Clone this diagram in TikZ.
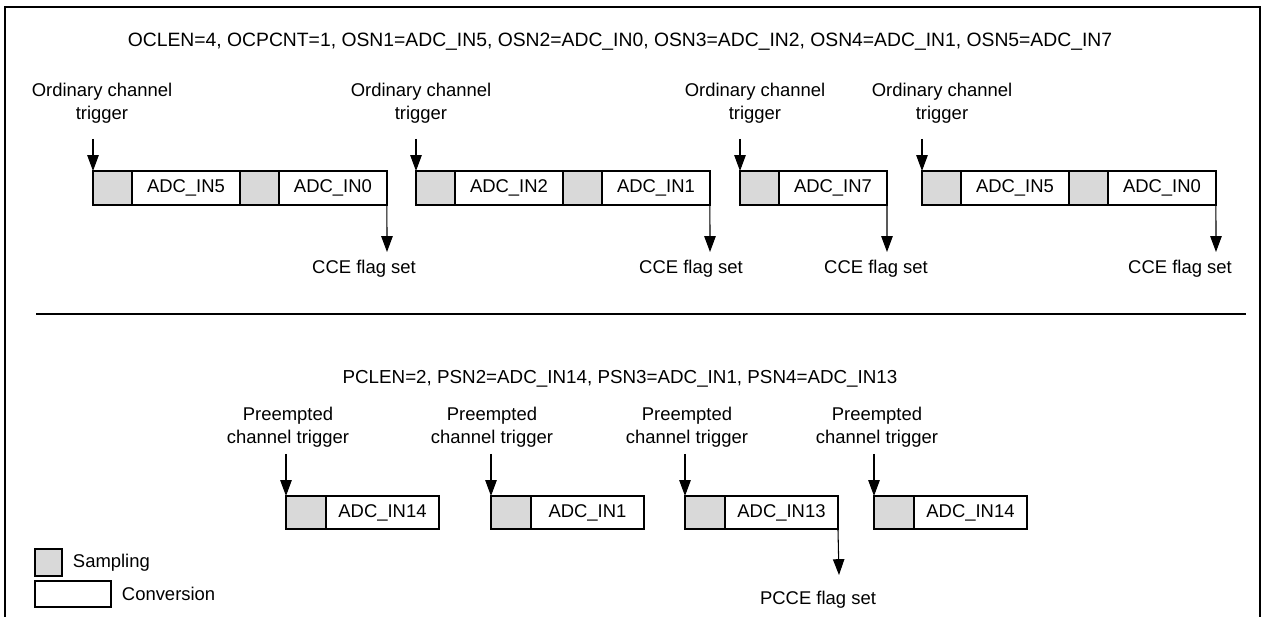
\documentclass[tikz,border=0pt]{standalone}
\usepackage{fontspec}
\setmainfont{Liberation Sans}
\usetikzlibrary{positioning,arrows.meta}
\definecolor{sampgray}{RGB}{217,217,217}

\begin{document}
\begin{tikzpicture}[x=0.02cm,y=-0.02cm,
    font=\fontsize{10.5}{13}\selectfont,
    samp/.style={draw,fill=sampgray,line width=0.7pt,minimum width=0.78cm,
      minimum height=0.68cm,inner sep=0pt,outer sep=0pt},
    conv/.style={draw,fill=white,line width=0.7pt,minimum width=2.16cm,
      minimum height=0.68cm,inner sep=0pt,outer sep=0pt},
    psamp/.style={samp,minimum width=0.8cm,minimum height=0.66cm},
    pconv/.style={conv,minimum width=2.26cm,minimum height=0.66cm},
    arr/.style={-{Triangle[length=9pt,width=6.5pt]},line width=0.6pt}]
  \useasboundingbox (0,0) rectangle (1265,617);
  % frame, open at the bottom
  \draw[line width=1.1pt] (5,640) -- (5,7) -- (1260,7) -- (1260,640);

  % ordinary channels
  \node[font=\fontsize{11}{13}\selectfont] (otitle) at (620,42) {OCLEN=4, OCPCNT=1, OSN1=ADC\_IN5, OSN2=ADC\_IN0, OSN3=ADC\_IN2, OSN4=ADC\_IN1, OSN5=ADC\_IN7};

  \node[samp,anchor=west] (o1a) at (93,188) {};
  \node[conv,right=0pt of o1a] (o1b) {ADC\_IN5};
  \node[samp,right=0pt of o1b] (o1c) {};
  \node[conv,right=0pt of o1c] (o1d) {ADC\_IN0};

  \node[samp,anchor=west] (o2a) at (416,188) {};
  \node[conv,right=0pt of o2a] (o2b) {ADC\_IN2};
  \node[samp,right=0pt of o2b] (o2c) {};
  \node[conv,right=0pt of o2c] (o2d) {ADC\_IN1};

  \node[samp,anchor=west] (o3a) at (740,188) {};
  \node[conv,right=0pt of o3a] (o3b) {ADC\_IN7};

  \node[samp,anchor=west] (o4a) at (922,188) {};
  \node[conv,right=0pt of o4a] (o4b) {ADC\_IN5};
  \node[samp,right=0pt of o4b] (o4c) {};
  \node[conv,right=0pt of o4c] (o4d) {ADC\_IN0};

  \node[align=center] (ot1) at (102,103) {Ordinary channel\\trigger};
  \node[align=center] (ot2) at (421,103) {Ordinary channel\\trigger};
  \node[align=center] (ot3) at (755,103) {Ordinary channel\\trigger};
  \node[align=center] (ot4) at (942,103) {Ordinary channel\\trigger};
  \coordinate (t1) at (93,139);
  \coordinate (t2) at (416,139);
  \coordinate (t3) at (740,139);
  \coordinate (t4) at (922,139);
  \draw[arr] (t1) -- (o1a.north west);
  \draw[arr] (t2) -- (o2a.north west);
  \draw[arr] (t3) -- (o3a.north west);
  \draw[arr] (t4) -- (o4a.north west);

  \coordinate (c1) at (387,252);
  \coordinate (c2) at (710,252);
  \coordinate (c3) at (887,252);
  \coordinate (c4) at (1216,252);
  \draw[arr] (o1d.south east) -- (c1);
  \draw[arr] (o2d.south east) -- (c2);
  \draw[arr] (o3b.south east) -- (c3);
  \draw[arr] (o4d.south east) -- (c4);
  \node (cf1) at (364,269) {CCE flag set};
  \node (cf2) at (691,269) {CCE flag set};
  \node (cf3) at (876,269) {CCE flag set};
  \node (cf4) at (1180,269) {CCE flag set};

  \draw[line width=1pt] (36,314) -- (1246,314);

  % preempted channels
  \node[font=\fontsize{10.7}{13}\selectfont] (ptitle) at (620,379) {PCLEN=2, PSN2=ADC\_IN14, PSN3=ADC\_IN1, PSN4=ADC\_IN13};

  \node[psamp,anchor=west] (p1a) at (286,512.5) {};
  \node[pconv,right=0pt of p1a] (p1b) {ADC\_IN14};
  \node[psamp,anchor=west] (p2a) at (491,512.5) {};
  \node[pconv,right=0pt of p2a] (p2b) {ADC\_IN1};
  \node[psamp,anchor=west] (p3a) at (685,512.5) {};
  \node[pconv,right=0pt of p3a] (p3b) {ADC\_IN13};
  \node[psamp,anchor=west] (p4a) at (874,512.5) {};
  \node[pconv,right=0pt of p4a] (p4b) {ADC\_IN14};

  \node[align=center] (pt1) at (288,427) {Preempted\\channel trigger};
  \node[align=center] (pt2) at (492,427) {Preempted\\channel trigger};
  \node[align=center] (pt3) at (687,427) {Preempted\\channel trigger};
  \node[align=center] (pt4) at (877,427) {Preempted\\channel trigger};
  \coordinate (s1) at (286,454);
  \coordinate (s2) at (491,454);
  \coordinate (s3) at (685,454);
  \coordinate (s4) at (874,454);
  \draw[arr] (s1) -- (p1a.north west);
  \draw[arr] (s2) -- (p2a.north west);
  \draw[arr] (s3) -- (p3a.north west);
  \draw[arr] (s4) -- (p4a.north west);

  \coordinate (pc) at (839,575);
  \draw[arr] (p3b.south east) -- (pc);
  \node (pcf) at (818,600) {PCCE flag set};

  % key
  \node[samp,minimum width=0.54cm,minimum height=0.54cm,anchor=north west] (ks) at (35,549) {};
  \node[conv,minimum width=1.52cm,minimum height=0.52cm,anchor=north west] (kc) at (35,581) {};
  \node[right=2.7pt of ks] (kst) {Sampling};
  \node[right=2.7pt of kc] (kct) {Conversion};
\end{tikzpicture}
\end{document}
